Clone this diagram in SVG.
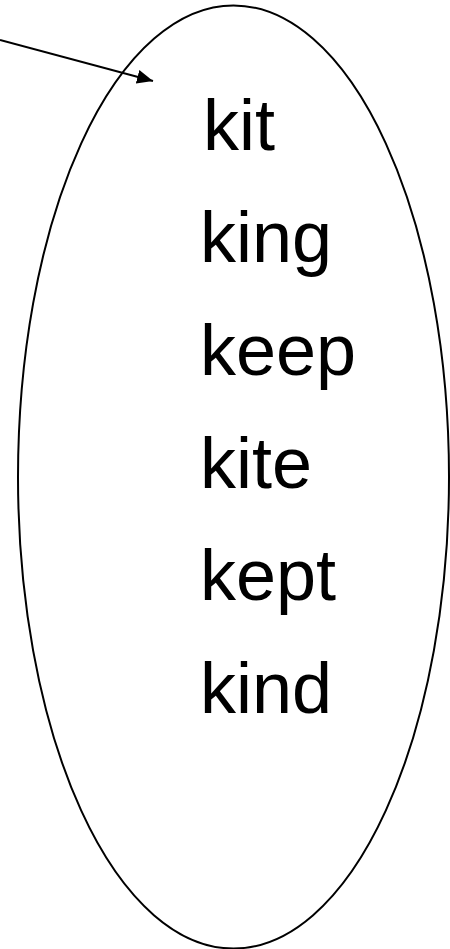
<svg xmlns="http://www.w3.org/2000/svg" width="450" height="949" viewBox="0 0 450 949">
<style>
.w{font-family:"Liberation Sans",Arial,sans-serif;font-size:72px;fill:#000}
.s{fill:none;stroke:#000;stroke-width:2}
</style>
<defs>
<marker id="ah" markerWidth="8" markerHeight="7" refX="8" refY="3.5" orient="auto" markerUnits="strokeWidth">
<path d="M0,0 L8,3.5 L0,7 Z" fill="#000"/>
</marker>
</defs>
<rect width="450" height="949" fill="#fff"/>
<g id="set">
<ellipse class="s" cx="233.5" cy="477" rx="215.5" ry="471.5"/>
</g>
<g id="words">
<text class="w" x="203" y="150">kit</text>
<text class="w" x="200" y="262">king</text>
<text class="w" x="200" y="375">keep</text>
<text class="w" x="200" y="488">kite</text>
<text class="w" x="200" y="600">kept</text>
<text class="w" x="200" y="713">kind</text>
</g>
<g id="connectors">
<line class="s" x1="0" y1="40" x2="153" y2="81" marker-end="url(#ah)"/>
</g>
</svg>
